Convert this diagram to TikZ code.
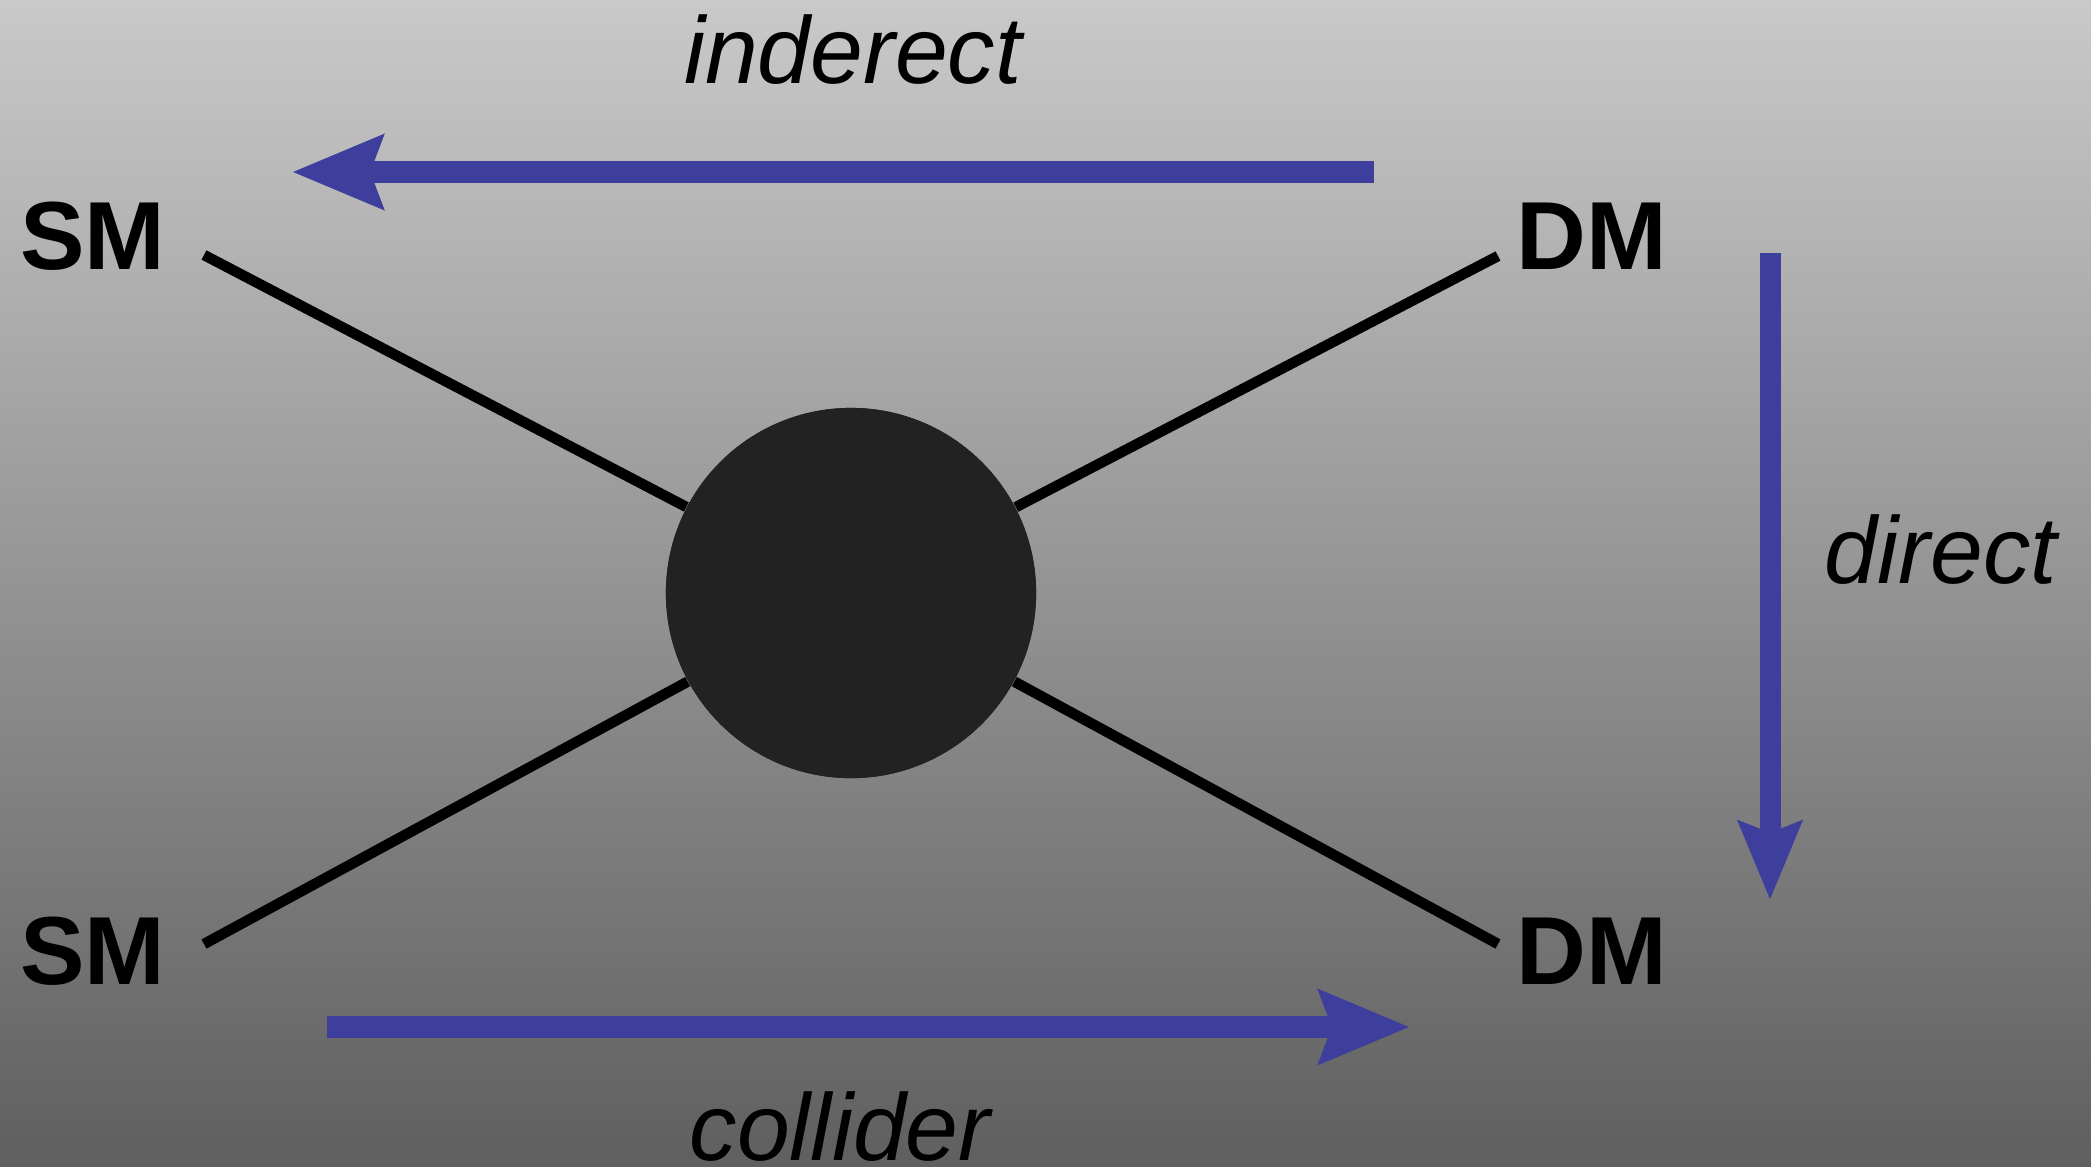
\documentclass[tikz,border=0pt]{standalone}
\usepackage{fontspec}
\setmainfont{Liberation Sans}
\usetikzlibrary{arrows.meta}

\definecolor{bgtop}{RGB}{201,201,201}
\definecolor{bgbot}{RGB}{95,95,95}
\definecolor{blobfill}{RGB}{34,34,34}
\definecolor{flowblue}{RGB}{62,62,156}

\tikzset{
  particle/.style={inner sep=0pt, outer sep=0pt, anchor=base,
    font=\fontsize{27.5pt}{33pt}\selectfont\bfseries},
  channel/.style={inner sep=0pt, outer sep=0pt, anchor=base,
    font=\fontsize{27pt}{32pt}\selectfont\itshape},
  leg/.style={draw=black, line width=0.105cm, line cap=butt},
  flow/.style={draw=flowblue, line width=0.22cm, line cap=butt,
    -{Stealth[length=0.9cm, width=0.72cm, inset=0.12cm]}},
  flowv/.style={draw=flowblue, line width=0.21cm, line cap=butt,
    -{Stealth[length=0.78cm, width=0.62cm, inset=0.11cm]}},
  vertex/.style={circle, fill=blobfill, draw=none, minimum size=3.7cm, inner sep=0pt}
}

\begin{document}
\begin{tikzpicture}[x=0.01cm, y=-0.01cm]
  % background with vertical grey gradient
  \shade[top color=bgtop, bottom color=bgbot] (0,0) rectangle (2091,1166);
  \useasboundingbox (0,0) rectangle (2091,1166);

  % interaction vertex (placed first so the legs can end on it)
  \node[vertex] (blob) at (851,593) {};

  % outer ends of the four legs
  \coordinate (smA) at (204,255);
  \coordinate (dmA) at (1498,256);
  \coordinate (smB) at (204,944);
  \coordinate (dmB) at (1498,944);

  \draw[leg] (smA) -- (blob);
  \draw[leg] (dmA) -- (blob);
  \draw[leg] (smB) -- (blob);
  \draw[leg] (dmB) -- (blob);

  % repaint the vertex over the leg ends
  \node[vertex] (blobtop) at (blob.center) {};

  % particle labels
  \node[particle] (lsmA) at (93,269) {SM};
  \node[particle] (ldmA) at (1592,269) {DM};
  \node[particle] (lsmB) at (93,984) {SM};
  \node[particle] (ldmB) at (1592,984) {DM};

  % detection channels
  \coordinate (indS) at (1374,172);
  \coordinate (indE) at (292,172);
  \draw[flow] (indS) -- (indE);
  \node[channel] (tind) at (853,83) {inderect};

  \coordinate (dirS) at (1770,253);
  \coordinate (dirE) at (1770,900);
  \draw[flowv] (dirS) -- (dirE);
  \node[channel] (tdir) at (1941,583) {direct};

  \coordinate (colS) at (327,1027);
  \coordinate (colE) at (1410,1027);
  \draw[flow] (colS) -- (colE);
  \node[channel] (tcol) at (840,1160) {collider};
\end{tikzpicture}
\end{document}
